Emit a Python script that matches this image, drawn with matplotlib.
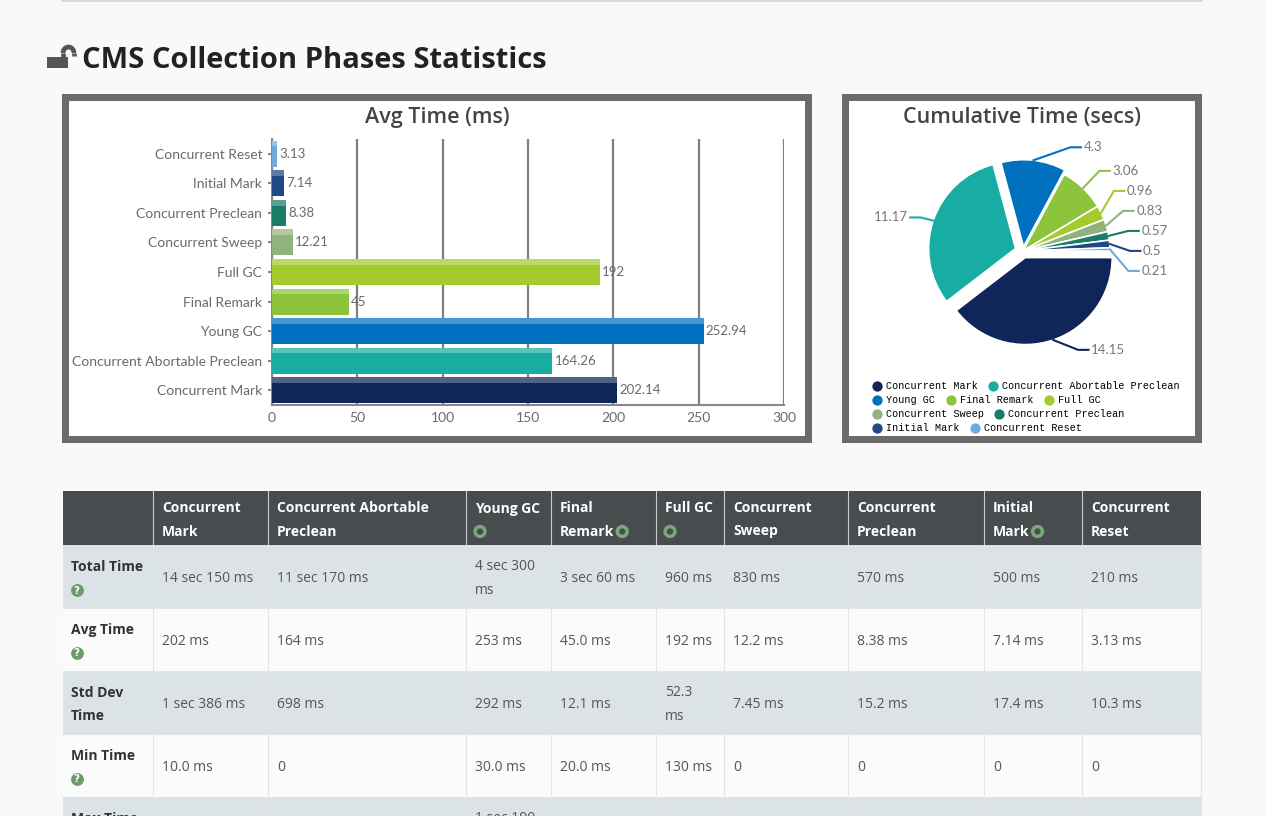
import numpy as np
import matplotlib.pyplot as plt
from matplotlib.patches import Rectangle, Arc

# ---- data ----
phases = ["Concurrent Mark", "Concurrent Abortable Preclean", "Young GC", "Final Remark",
          "Full GC", "Concurrent Sweep", "Concurrent Preclean", "Initial Mark", "Concurrent Reset"]
avg_ms = [202.14, 164.26, 252.94, 45, 192, 12.21, 8.38, 7.14, 3.13]
total_secs = [14.15, 11.17, 4.3, 3.06, 0.96, 0.83, 0.57, 0.5, 0.21]
colors = ["#10265a", "#17ada2", "#0071bf", "#8cc43e", "#a3cb2d",
          "#92b27c", "#1b7b69", "#1f4886", "#6faadc"]
explode = [0.08, 0.09, 0.05, 0, 0, 0, 0, 0, 0]

header_labels = ["Concurrent\nMark", "Concurrent Abortable\nPreclean", "Young GC", "Final\nRemark",
                 "Full GC", "Concurrent\nSweep", "Concurrent\nPreclean", "Initial\nMark",
                 "Concurrent\nReset"]
header_icon = [False, False, True, True, True, False, False, True, False]
row_labels = ["Total Time", "Avg Time", "Std Dev\nTime", "Min Time", "Max Time"]
row_help = [True, True, False, True, True]
total_time = ["14 sec 150 ms", "11 sec 170 ms", "4 sec 300\nms", "3 sec 60 ms", "960 ms",
              "830 ms", "570 ms", "500 ms", "210 ms"]
avg_time = ["202 ms", "164 ms", "253 ms", "45.0 ms", "192 ms", "12.2 ms", "8.38 ms",
            "7.14 ms", "3.13 ms"]
std_time = ["1 sec 386 ms", "698 ms", "292 ms", "12.1 ms", "52.3\nms", "7.45 ms", "15.2 ms",
            "17.4 ms", "10.3 ms"]
min_time = ["10.0 ms", "0", "30.0 ms", "20.0 ms", "130 ms", "0", "0", "0", "0"]
max_time = ["", "", "1 sec 190\nms", "", "", "", "", "", ""]
table_rows = [total_time, avg_time, std_time, min_time, max_time]

W, H = 1267, 816
fig = plt.figure(figsize=(W / 100, H / 100), dpi=100)
fig.patch.set_facecolor("#f9f9f9")

# page layer in pixel coordinates
page = fig.add_axes([0, 0, 1, 1])
page.set_xlim(0, W)
page.set_ylim(H, 0)
page.axis("off")

page.plot([62, 1202], [0.5, 0.5], color="#d4d4d4", lw=1.2)

# unlocked padlock + heading
lock = "#555555"
page.add_patch(Rectangle((47, 57), 21, 11, color=lock, lw=0))
page.add_patch(Arc((68.5, 53), 11, 12, theta1=180, theta2=360, color=lock, lw=3.4))
page.plot([63, 63], [53, 58], color=lock, lw=3.4, solid_capstyle="butt")
page.plot([74, 74], [53, 56], color=lock, lw=3.4, solid_capstyle="butt")
page.text(82, 61, "CMS Collection Phases Statistics", fontsize=21, fontweight="bold",
          family="Open Sans", color="#222222", va="center", ha="left")

# chart panels (gray frame, white inside)
for x0, x1 in [(62, 812), (842, 1202)]:
    page.add_patch(Rectangle((x0, 94), x1 - x0, 349, color="#6b6b6b", lw=0))
    page.add_patch(Rectangle((x0 + 7, 101), x1 - x0 - 14, 335, color="white", lw=0))
page.text(437, 118, "Avg Time (ms)", fontsize=15.5, fontweight="semibold", family="Open Sans",
          color="#444444", ha="center", va="center")
page.text(1022, 118, "Cumulative Time (secs)", fontsize=15.5, fontweight="semibold",
          family="Open Sans", color="#444444", ha="center", va="center")

# ---- bar chart ----
ax = fig.add_axes([272 / W, 1 - 405 / H, 512 / W, 266 / H])
ax.set_facecolor("none")
ypos = np.arange(len(phases))
bh = 0.88
ax.barh(ypos, avg_ms, height=bh, color=colors, zorder=3)
ax.barh(ypos + bh / 2 - bh * 0.11, avg_ms, height=bh * 0.22, color="white", alpha=0.28, zorder=4)
for y, v in zip(ypos, avg_ms):
    ax.text(v + 1.3, y, f"{v:g}", va="center", ha="left", fontsize=9.5, family="Lato",
            color="#6a6a6a", zorder=5)
ax.set_xlim(0, 300)
ax.set_ylim(-0.5, len(phases) - 0.5)
ax.set_xticks(range(0, 301, 50))
ax.set_yticks(ypos)
ax.set_yticklabels(phases)
ax.grid(axis="x", color="#7f7f7f", lw=1.6, zorder=0)
ax.set_axisbelow(True)
for s in ["top", "right"]:
    ax.spines[s].set_visible(False)
for s in ["left", "bottom"]:
    ax.spines[s].set_color("#888888")
    ax.spines[s].set_linewidth(1.5)
ax.tick_params(axis="y", length=3, width=1.5, color="#888888", pad=4, labelsize=10,
               labelcolor="#6a6a6a")
ax.tick_params(axis="x", length=0, pad=5, labelsize=10, labelcolor="#6a6a6a")
for lab in ax.get_xticklabels() + ax.get_yticklabels():
    lab.set_family("Lato")

# ---- pie chart ----
cx, cy, r_px, half = 1023, 251, 87, 150
pax = fig.add_axes([(cx - half) / W, 1 - (cy + half) / H, 2 * half / W, 2 * half / H])
wedges, _ = pax.pie(total_secs, colors=colors, startangle=0, counterclock=False,
                    explode=explode, wedgeprops=dict(edgecolor="white", linewidth=1.2))
L = half / r_px
pax.set_xlim(-L, L)
pax.set_ylim(-L, L)
pax.axis("off")


def spread(ys, gap):
    ys = list(ys)
    order = list(np.argsort(ys)[::-1])
    for _ in range(500):
        moved = False
        for a, b in zip(order[:-1], order[1:]):
            d = ys[a] - ys[b]
            if d < gap - 1e-6:
                s = (gap - d) / 2
                ys[a] += s
                ys[b] -= s
                moved = True
        if not moved:
            break
    return ys


mids = [np.deg2rad((w.theta1 + w.theta2) / 2) for w in wedges]
sides = [1 if np.cos(a) >= 0 else -1 for a in mids]
label_y = [0.0] * len(mids)
for side in (1, -1):
    idx = [i for i in range(len(mids)) if sides[i] == side]
    ys = spread([1.2 * np.sin(mids[i]) for i in idx], 0.23)
    for i, yv in zip(idx, ys):
        label_y[i] = yv
R = 1.38
for i, (w, a) in enumerate(zip(wedges, mids)):
    side = sides[i]
    ly = label_y[i]
    lx = side * np.sqrt(max(R ** 2 - ly ** 2, 0.3 ** 2))
    ex, ey = w.center
    sx, sy = ex + np.cos(a), ey + np.sin(a)
    pax.plot([sx, lx - side * 0.15, lx - side * 0.03], [sy, ly, ly], color=colors[i],
             lw=1.5, clip_on=False, solid_joinstyle="miter")
    pax.text(lx, ly, f"{total_secs[i]:g}", ha="left" if side > 0 else "right", va="center",
             fontsize=9.5, family="Lato", color="#777777", clip_on=False)

# legend, flowed into rows like the reference
fs_leg = 7.3
char_w = 0.6 * fs_leg * 100 / 72
lx0, lx_max, ly0, row_h = 872, 1190, 386, 14
x, y = lx0, ly0
for name, col in zip(phases, colors):
    item_w = 14 + len(name) * char_w + 11
    if x + 14 + len(name) * char_w > lx_max:
        x, y = lx0, y + row_h
    page.scatter([x + 5], [y], s=55, color=col, lw=0, zorder=5)
    page.text(x + 14, y, name, fontsize=fs_leg, family="Liberation Mono", color="#000000",
              va="center", ha="left")
    x += item_w

# ---- table ----
col_x = [63, 153, 268, 466, 551, 656, 724, 848, 984, 1082, 1201]
head_top, head_bot = 491, 545
row_h_px = 63
line_h = 23
font_t = "Open Sans"
dy_txt = 2

page.add_patch(Rectangle((col_x[0], head_top), col_x[-1] - col_x[0], head_bot - head_top,
                         color="#494c4f", lw=0))
for k in range(len(table_rows)):
    top = head_bot + k * row_h_px
    page.add_patch(Rectangle((col_x[0], top), col_x[-1] - col_x[0], row_h_px,
                             color="#dce3e7" if k % 2 == 0 else "#fbfbfb", lw=0))
for xv in col_x[1:-1]:
    page.plot([xv, xv], [head_top, head_bot], color="#c9cbcc", lw=0.8)
    page.plot([xv, xv], [head_bot, H], color="#e2e4e5", lw=0.8)
page.plot([col_x[-1], col_x[-1]], [head_bot, H], color="#e2e4e5", lw=0.8)
for k in range(1, len(table_rows)):
    yv = head_bot + k * row_h_px
    page.plot([col_x[0], col_x[-1]], [yv, yv], color="#e2e4e5", lw=0.8)

renderer = fig.canvas.get_renderer()
head_mid = (head_top + head_bot) / 2 + dy_txt
for j, (lab, icon) in enumerate(zip(header_labels, header_icon)):
    x0 = col_x[j + 1] + 9
    lines = lab.split("\n")
    if icon and len(lines) == 1:
        lines.append("")
    y_first = head_mid - (len(lines) - 1) * line_h / 2
    t = None
    for n, ln in enumerate(lines):
        t = page.text(x0, y_first + n * line_h, ln, fontsize=10, fontweight="bold",
                      family=font_t, color="white", va="center", ha="left")
    if icon:
        if lines[-1]:
            bb = t.get_window_extent(renderer=renderer)
            ix = bb.x1 + 8
        else:
            ix = x0 + 5
        page.scatter([ix], [y_first + (len(lines) - 1) * line_h], s=50, facecolor="none",
                     edgecolor="#79a879", lw=2.5, zorder=5)

for k, (lab, helpme, vals) in enumerate(zip(row_labels, row_help, table_rows)):
    mid = head_bot + k * row_h_px + row_h_px / 2 + dy_txt
    lines = lab.split("\n")
    n_lines = len(lines) + (1 if helpme else 0)
    y_first = mid - (n_lines - 1) * line_h / 2
    for n, ln in enumerate(lines):
        page.text(71, y_first + n * line_h, ln, fontsize=10, fontweight="bold", family=font_t,
                  color="#333333", va="center", ha="left")
    if helpme:
        hy = y_first + len(lines) * line_h
        page.scatter([76.5], [hy], s=85, color="#6b9a6b", lw=0, zorder=5)
        page.text(76.5, hy + 0.5, "?", fontsize=7.5, fontweight="bold", family="DejaVu Sans",
                  color="white", ha="center", va="center", zorder=6)
    for j, v in enumerate(vals):
        if not v:
            continue
        vl = v.split("\n")
        y0 = mid - (len(vl) - 1) * line_h / 2
        for n, ln in enumerate(vl):
            page.text(col_x[j + 1] + 9, y0 + n * line_h, ln, fontsize=10, family=font_t,
                      color="#555555", va="center", ha="left")

fig.savefig("out.png", dpi=100, facecolor=fig.get_facecolor())
